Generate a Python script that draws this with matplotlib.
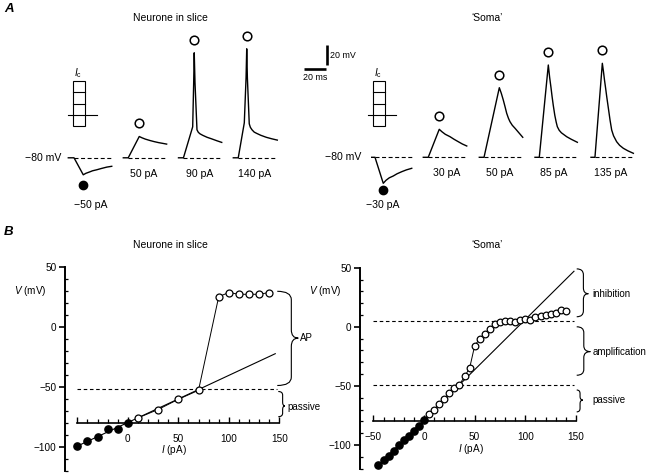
import numpy as np
import matplotlib
matplotlib.use('Agg')
import matplotlib.pyplot as plt
from matplotlib.path import Path
from matplotlib.patches import PathPatch, Rectangle
from matplotlib.ticker import FixedLocator

plt.rcParams['font.family'] = ['Liberation Sans', 'DejaVu Sans']
plt.rcParams['mathtext.fontset'] = 'custom'
plt.rcParams['mathtext.it'] = 'Liberation Sans:italic'
plt.rcParams['mathtext.rm'] = 'Liberation Sans'
plt.rcParams['axes.unicode_minus'] = True

# ------------------------------------------------------------------ data
# Panel A : voltage traces, time in ms from trace start, V in mV
slice_labels = ['\u221250 pA', '50 pA', '90 pA', '140 pA']
slice_t1 = [0, 5.2, 13.6, 16, 19, 22, 25.8, 30, 35, 39.5]
slice_v1 = [-80, -80, -97, -95.5, -94.3, -93, -92, -90.7, -89.3, -88.5]
slice_t2 = [0, 4.5, 14.5, 17, 20, 24.2, 28, 32, 36, 39.4]
slice_v2 = [-80, -80, -58.7, -60, -61.3, -62.7, -63.8, -64.8, -65.6, -66.3]
slice_t3 = [0, 4.5, 12.9, 13.8, 14.3, 15.0, 16.8, 18, 19.5, 22, 26, 30, 35, 39.3]
slice_v3 = [-80, -80, -49, -5, 25, -5, -52, -54.5, -56, -57.5, -59.5, -61, -63, -64.6]
slice_t4 = [0, 4.5, 10, 11.6, 12.2, 12.8, 14.5, 15.5, 17, 19, 21.3, 25, 30, 35, 40]
slice_v4 = [-80, -80, -45, 0, 29, 0, -46, -49.5, -52, -54.3, -55.6, -57.5, -59.5, -61, -62.3]

soma_labels = ['\u221230 pA', '30 pA', '50 pA', '85 pA', '135 pA']
soma_t1 = [0, 3, 10.5, 13, 16, 19.6, 23, 27.3, 31.5, 36.4]
soma_v1 = [-80, -80, -106, -103, -100.5, -98.7, -96.5, -94.4, -92.6, -91]
soma_t2 = [0, 4.5, 14.5, 17, 20, 24.3, 28, 31.8, 35.5, 39.5]
soma_v2 = [-80, -80, -52, -54.5, -57, -59.4, -62, -64.4, -66.7, -68.7]
soma_t3 = [0, 4.3, 18.2, 20, 21.8, 23.4, 24.9, 26.5, 27.9, 30, 32.5, 36, 39.5]
soma_v3 = [-80, -80, -10.4, -16, -22.7, -29.4, -36, -41, -44.4, -48, -51, -55.5, -60]
soma_t4 = [0, 3.9, 12.1, 13.3, 14.5, 15.5, 16.6, 18, 19.3, 20.3, 22, 24, 28.8, 33, 38.5]
soma_v4 = [-80, -80, 12.3, 0, -10, -19, -28, -38, -45, -49.4, -53, -55.5, -59.4, -62, -65]
soma_t5 = [0, 3.6, 10.3, 11.3, 12.3, 13.3, 14.3, 15.8, 17.3, 18.8, 20.5, 23.3, 26, 29.4, 33.5, 38.5]
soma_v5 = [-80, -80, 14, 6, -3, -11, -19.4, -31, -42.7, -52.7, -58.5, -64.4, -68, -71, -73.5, -76]

V_REST = -80
scalebar_ms = 20
scalebar_mv = 20
ic_levels = [-50, 0, 50, 100, 150]   # current-step schematic (pA)

# Panel B : V-I relations
slice_filled_I = [-50, -40, -30, -20, -10, 0]
slice_filled_V = [-99, -95, -92, -85, -85, -80]
slice_open_I = [10, 30, 50, 70, 90, 100, 110, 120, 130, 140]
slice_open_V = [-76, -69, -60.5, -53, 25, 28.5, 27, 27, 27, 28.5]
slice_fit_I = [-50, 146]
slice_fit_V = [-99.5, -22.5]
slice_threshold = -52

soma_filled_I = [-45, -40, -35, -30, -25, -20, -15, -10, -5, 0]
soma_filled_V = [-117, -113, -109, -105, -100, -96, -92, -88, -84, -79]
soma_open_I = [5, 10, 15, 20, 25, 30, 35, 40, 45, 50, 55, 60, 65, 70, 75, 80,
               85, 90, 95, 100, 105, 110, 115, 120, 125, 130, 135, 140]
soma_open_V = [-74, -70, -65, -61, -56, -52, -49, -42, -35, -16, -10, -6, -2, 2,
               4, 5, 5, 4, 6, 7, 6, 8, 9, 10, 11, 12, 14, 13]
soma_fit_I = [-45, 148]
soma_fit_V = [-117, 47]
soma_levels = [5, -49]

# ------------------------------------------------------------------ layout
W, H = 651, 475
fig = plt.figure(figsize=(W / 100, H / 100), dpi=100)
fig.patch.set_facecolor('white')


def px_axes(x0, y0, x1, y1):
    return fig.add_axes([x0 / W, 1 - y1 / H, (x1 - x0) / W, (y1 - y0) / H])


def ftext(x, y, s, **kw):
    kw.setdefault('ha', 'center')
    kw.setdefault('va', 'center')
    return fig.text(x / W, 1 - y / H, s, **kw)


PX_PER_MS = 1.1
PX_PER_MV = 1.0
V_LO, V_HI = -135, 45


def trace_axes(x0, base, tmax):
    ax = px_axes(x0, base - (V_HI - V_REST) * PX_PER_MV,
                 x0 + tmax * PX_PER_MS, base + (V_REST - V_LO) * PX_PER_MV)
    ax.set_xlim(0, tmax)
    ax.set_ylim(V_LO, V_HI)
    ax.axis('off')
    return ax


A_FS = 7.6


def draw_traces(ts, vs, labels, x0s, base, label_px, dot_off):
    for t, v, lab, x0, lx in zip(ts, vs, labels, x0s, label_px):
        ax = trace_axes(x0, base, t[-1])
        ax.plot([t[1], t[-1]], [V_REST, V_REST], color='k', lw=0.8,
                dashes=(3.6, 2.3), clip_on=False)
        ax.plot(t, v, color='k', lw=1.0, clip_on=False, solid_joinstyle='round')
        if min(v) < V_REST:
            i = int(np.argmin(v))
            ax.plot(t[i], v[i] - dot_off, 'o', color='k', ms=6, clip_on=False)
            ftext(lx, base + 47.5, lab, fontsize=A_FS)
        else:
            i = int(np.argmax(v))
            ax.plot(t[i], v[i] + 13, 'o', mfc='white', mec='k', ms=6.2,
                    mew=1.1, clip_on=False)
            ftext(lx, base + 15.8, lab, fontsize=A_FS)


draw_traces([slice_t1, slice_t2, slice_t3, slice_t4],
            [slice_v1, slice_v2, slice_v3, slice_v4], slice_labels,
            [68.3, 123.3, 178.5, 233.3], 157.8,
            [90.3, 143.3, 199.3, 255], 10.5)
draw_traces([soma_t1, soma_t2, soma_t3, soma_t4, soma_t5],
            [soma_v1, soma_v2, soma_v3, soma_v4, soma_v5], soma_labels,
            [371.7, 423.3, 479.3, 535, 591], 157.3,
            [382.5, 446.7, 499.2, 553.3, 610.7], 7)

ftext(61.7, 158, '\u221280 mV', ha='right', fontsize=A_FS)
ftext(361.7, 157.3, '\u221280 mV', ha='right', fontsize=A_FS)

# scale bar
sb = trace_axes(304, 69.3, 26)
sb.plot([0, scalebar_ms], [V_REST, V_REST], color='k', lw=1.9,
        solid_capstyle='butt', clip_on=False)
sb.plot([21.2, 21.2], [V_REST + 4.3, V_REST + 4.3 + scalebar_mv], color='k',
        lw=1.9, solid_capstyle='butt', clip_on=False)
ftext(330, 55, '%d mV' % scalebar_mv, ha='left', fontsize=6.4)
ftext(315.5, 77, '%d ms' % scalebar_ms, fontsize=6.4)


# current-step schematic boxes
def ic_box(x0, x1):
    ax = px_axes(x0, 81, x1, 126)
    ax.set_xlim(0, 1)
    ax.set_ylim(ic_levels[0], ic_levels[-1])
    ax.axis('off')
    ax.add_patch(Rectangle((0, ic_levels[0]), 1, ic_levels[-1] - ic_levels[0],
                           fill=False, ec='k', lw=0.8, clip_on=False))
    for lv in ic_levels[2:-1]:
        ax.plot([0, 1], [lv, lv], color='k', lw=0.8, clip_on=False)
    ax.plot([-0.42, 1.95], [0, 0], color='k', lw=0.8, clip_on=False)
    ax.text(0.4, 183, r'$I_\mathrm{c}$', ha='center', va='center',
            fontsize=7.2)


ic_box(72.7, 85)
ic_box(373.3, 385)

# titles and panel letters
for y in (18.3, 245):
    ftext(170.7, y, 'Neurone in slice', fontsize=7.5)
    ftext(486.7, y, '\u2018Soma\u2019', fontsize=7.5)
ftext(9, 8.5, 'A', fontsize=9.5, fontweight='bold', fontstyle='italic')
ftext(9, 232.5, 'B', fontsize=9.5, fontweight='bold', fontstyle='italic')

# ------------------------------------------------------------------ panel B
MOVE, C3, LINE = Path.MOVETO, Path.CURVE3, Path.LINETO


def brace(ax, x, wb, wt, top, bot, tip, r):
    xb, xt = x + wb, x + wt
    verts = [(x, top), (xb, top), (xb, top - r), (xb, tip + r),
             (xb, tip), (xt, tip), (xb, tip), (xb, tip - r),
             (xb, bot + r), (xb, bot), (x, bot)]
    codes = [MOVE, C3, C3, LINE, C3, C3, C3, C3, LINE, C3, C3]
    ax.add_patch(PathPatch(Path(verts, codes), fill=False, ec='k', lw=0.8,
                           clip_on=False))


B_FS = 7.2


def iv_axes(x0, y0, x1, y1, xmin, xlabels):
    ax = px_axes(x0, y0, x1, y1)
    ax.set_xlim(xmin, 150)
    ax.set_ylim(-120, 50)
    ax.patch.set_alpha(0)
    for s in ('top', 'right'):
        ax.spines[s].set_visible(False)
    ax.spines['bottom'].set_position(('data', V_REST))
    ax.spines['bottom'].set_bounds(-50, 150)
    ax.spines['left'].set_bounds(-120, 50)
    ax.spines['left'].set_linewidth(1.4)
    ax.spines['bottom'].set_linewidth(1.2)
    ax.set_xticks([-50, 0, 50, 100, 150])
    ax.set_xticklabels(xlabels)
    ax.xaxis.set_minor_locator(FixedLocator(np.arange(-50, 151, 10)))
    ax.set_yticks([-100, -50, 0, 50])
    ax.yaxis.set_minor_locator(FixedLocator(np.arange(-120, 51, 10)))
    ax.tick_params(axis='x', which='major', direction='in', length=4.5,
                   width=1.0, pad=8, labelsize=B_FS)
    ax.tick_params(axis='x', which='minor', direction='in', length=3,
                   width=0.9)
    ax.tick_params(axis='y', which='major', direction='out', length=4,
                   width=1.2, pad=2, labelsize=B_FS)
    ax.tick_params(axis='y', which='minor', direction='in', length=2.5,
                   width=0.9)
    ax.annotate('$V$ (mV)', xy=(0, 30), xycoords=('axes fraction', 'data'),
                xytext=(-13.5, 0), textcoords='offset points', ha='right',
                va='center', fontsize=B_FS)
    ax.text(46, -103, '$I$ (pA)', ha='center', va='center', fontsize=B_FS)
    return ax


axL = iv_axes(65, 266.7, 279.3, 470.7, -62.2, ['', '0', '50', '100', '150'])
axL.plot([-50, 148], [slice_threshold] * 2, color='k', lw=0.8,
         dashes=(3.2, 2.4), clip_on=False)
axL.plot(slice_fit_I, slice_fit_V, color='k', lw=0.8, clip_on=False)
axL.plot(slice_open_I, slice_open_V, '-', color='k', lw=0.7, marker='o',
         mfc='white', mec='k', ms=5.0, mew=0.9, clip_on=False, zorder=3)
axL.plot(slice_filled_I, slice_filled_V, 'o', color='k', ms=5.2,
         clip_on=False, zorder=4)
brace(axL, 148, 13.9, 20.8, 29.5, -49, -9.5, 7)
brace(axL, 149, 4.3, 6.6, -54, -75, -66, 3)
axL.text(170.5, -9.5, 'AP', ha='left', va='center', fontsize=7)
axL.text(158, -66.7, 'passive', ha='left', va='center', fontsize=7)

axR = iv_axes(360, 267.7, 576, 468.6, -63.2,
              ['\u221250', '0', '50', '100', '150'])
for lv in soma_levels:
    axR.plot([-50, 148], [lv, lv], color='k', lw=0.8, dashes=(3.2, 2.4),
             clip_on=False)
axR.plot(soma_fit_I, soma_fit_V, color='k', lw=0.8, clip_on=False)
axR.plot(soma_open_I, soma_open_V, '-', color='k', lw=0.7, marker='o',
         mfc='white', mec='k', ms=4.8, mew=0.9, clip_on=False, zorder=3)
axR.plot(soma_filled_I, soma_filled_V, 'o', color='k', ms=5.2,
         clip_on=False, zorder=4)
brace(axR, 150.7, 6.6, 11.5, 49, 8.5, 28, 5)
brace(axR, 150.7, 7.0, 13.5, 0, -41, -21, 5)
brace(axR, 150.7, 3.3, 6.0, -53.5, -72, -62, 3)
axR.text(166.5, 28, 'inhibition', ha='left', va='center', fontsize=7)
axR.text(166.5, -21, 'amplification', ha='left', va='center', fontsize=7)
axR.text(166.5, -62, 'passive', ha='left', va='center', fontsize=7)

fig.savefig('out.png', dpi=100, facecolor='white')
